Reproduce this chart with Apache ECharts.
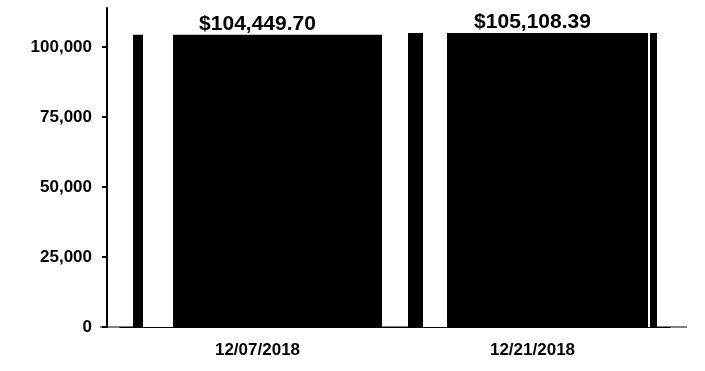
<!DOCTYPE html>
<html>
<head>
<meta charset="utf-8">
<script src="https://cdn.jsdelivr.net/npm/echarts@6/dist/echarts.min.js"></script>
<style>
  html, body { margin: 0; padding: 0; background: #fff; }
  #mainChart { width: 705px; height: 371px; }
</style>
</head>
<body>
<div id="mainChart"></div>
<script>
var dates = ['12/07/2018', '12/21/2018'];
var totals = [104449.70, 105108.39];
var yTicks = [0, 25000, 50000, 75000, 100000];

// bar fill: black, with white stripes between the given offsets
function barFill(stripes) {
    var stops = [{offset: 0, color: '#000'}];
    for (var i = 0; i < stripes.length; i++) {
        stops.push({offset: stripes[i][0], color: '#000'});
        stops.push({offset: stripes[i][0], color: '#fff'});
        stops.push({offset: stripes[i][1], color: '#fff'});
        stops.push({offset: stripes[i][1], color: '#000'});
    }
    stops.push({offset: 1, color: '#000'});
    return new echarts.graphic.LinearGradient(0, 0, 1, 0, stops);
}

var chartDom = document.getElementById('mainChart');
var chart = echarts.init(chartDom);
var option = {
    animation: false,
    grid: {left: 120, right: 35, top: 8, bottom: 44},
    xAxis: {
        type: 'category',
        data: dates,
        axisLine: {lineStyle: {color: '#000', width: 1}},
        axisTick: {alignWithLabel: true, length: 4, lineStyle: {color: '#000'}},
        axisLabel: {
            color: '#000', fontFamily: 'Liberation Sans, Arial', fontWeight: 'bold',
            fontSize: 17, margin: 15
        }
    },
    yAxis: {
        type: 'value',
        min: 0,
        max: 114000,
        offset: 13,
        splitLine: {show: false},
        axisLine: {show: true, lineStyle: {color: '#000', width: 2}},
        axisTick: {show: true, length: 5, customValues: yTicks, lineStyle: {color: '#000', width: 2}},
        axisLabel: {
            customValues: yTicks,
            color: '#000', fontFamily: 'Liberation Sans, Arial', fontWeight: 'bold',
            fontSize: 17, margin: 15,
            formatter: function (v) { return v.toLocaleString('en-US'); }
        }
    },
    series: [{
        type: 'bar',
        barWidth: 249,
        data: [
            {value: totals[0], itemStyle: {color: barFill([[0.04, 0.16]])}},
            {value: totals[1], itemStyle: {color: barFill([[0.06, 0.158], [0.963, 0.97]])}}
        ],
        label: {
            show: true,
            position: 'top',
            distance: 1,
            offset: [0, 1],
            color: '#000',
            fontFamily: 'Liberation Sans, Arial',
            fontWeight: 'bold',
            fontSize: 21,
            formatter: function (p) {
                return '$' + p.value.toLocaleString('en-US', {minimumFractionDigits: 2, maximumFractionDigits: 2});
            }
        }
    }],
    graphic: [{
        // the scanned baseline runs a little past both ends of the plot
        type: 'line',
        shape: {x1: 100, y1: 327, x2: 687, y2: 327},
        style: {stroke: '#000', lineWidth: 1}
    }]
};
chart.setOption(option);
</script>
</body>
</html>
